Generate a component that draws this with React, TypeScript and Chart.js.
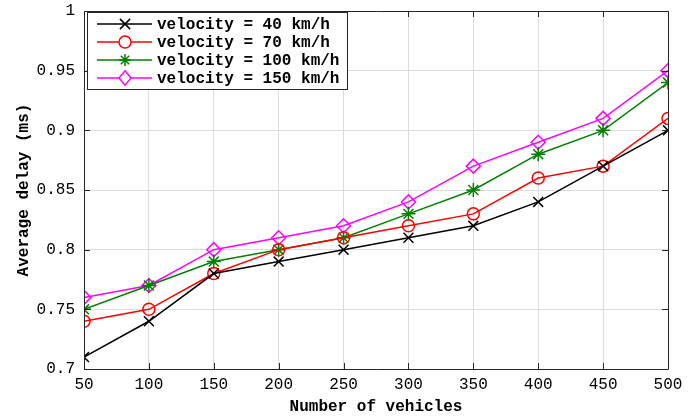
import React, { useEffect, useRef } from "react";
import { Chart, registerables } from "chart.js";

Chart.register(...registerables);

const vehicles = [50, 100, 150, 200, 250, 300, 350, 400, 450, 500];
const v40 = [0.71, 0.74, 0.78, 0.79, 0.8, 0.81, 0.82, 0.84, 0.87, 0.9];
const v70 = [0.74, 0.75, 0.78, 0.8, 0.81, 0.82, 0.83, 0.86, 0.87, 0.91];
const v100 = [0.75, 0.77, 0.79, 0.8, 0.81, 0.83, 0.85, 0.88, 0.9, 0.94];
const v150 = [0.76, 0.77, 0.8, 0.81, 0.82, 0.84, 0.87, 0.89, 0.91, 0.95];
const seriesLabels = ["velocity = 40 km/h", "velocity = 70 km/h", "velocity = 100 km/h", "velocity = 150 km/h"];
const seriesColors = ["#000000", "#ff0000", "#008000", "#ff00ff"];
const seriesMarkers = ["crossRot", "circle", "star", "rectRot"];
const seriesValues = [v40, v70, v100, v150];

const FONT = "'Liberation Mono', 'DejaVu Sans Mono', monospace";

function drawMarker(ctx: CanvasRenderingContext2D, style: string, x: number, y: number, color: string) {
  const r = 6;
  ctx.save();
  ctx.strokeStyle = color;
  ctx.lineWidth = 1.5;
  ctx.beginPath();
  if (style === "crossRot") {
    const d = r * 0.85;
    ctx.moveTo(x - d, y - d); ctx.lineTo(x + d, y + d);
    ctx.moveTo(x - d, y + d); ctx.lineTo(x + d, y - d);
  } else if (style === "circle") {
    ctx.fillStyle = "#ffffff";
    ctx.arc(x, y, r, 0, Math.PI * 2);
    ctx.fill();
  } else if (style === "star") {
    ctx.moveTo(x, y - r); ctx.lineTo(x, y + r);
    ctx.moveTo(x - r, y); ctx.lineTo(x + r, y);
    const d = r * 0.7;
    ctx.moveTo(x - d, y - d); ctx.lineTo(x + d, y + d);
    ctx.moveTo(x - d, y + d); ctx.lineTo(x + d, y - d);
  } else if (style === "rectRot") {
    ctx.fillStyle = "#ffffff";
    ctx.moveTo(x, y - r * 1.2); ctx.lineTo(x + r, y); ctx.lineTo(x, y + r * 1.2); ctx.lineTo(x - r, y); ctx.closePath();
    ctx.fill();
  }
  ctx.stroke();
  ctx.restore();
}

const boxPlugin = {
  id: "boxPlugin",
  afterDatasetsDraw(chart: any) {
    const { ctx, chartArea: a, scales } = chart;
    ctx.save();
    ctx.strokeStyle = "#262626";
    ctx.lineWidth = 1;
    ctx.beginPath();
    ctx.rect(a.left + 0.5, a.top + 0.5, a.right - a.left, a.bottom - a.top);
    ctx.stroke();
    const tl = 6;
    ctx.beginPath();
    scales.x.ticks.forEach((t: any) => {
      const x = Math.round(scales.x.getPixelForValue(t.value)) + 0.5;
      ctx.moveTo(x, a.bottom);
      ctx.lineTo(x, a.bottom - tl);
      ctx.moveTo(x, a.top);
      ctx.lineTo(x, a.top + tl);
    });
    scales.y.ticks.forEach((t: any) => {
      const y = Math.round(scales.y.getPixelForValue(t.value)) + 0.5;
      ctx.moveTo(a.left, y);
      ctx.lineTo(a.left + tl, y);
      ctx.moveTo(a.right, y);
      ctx.lineTo(a.right - tl, y);
    });
    ctx.stroke();

    // legend
    const lx = a.left + 3;
    const ly = a.top + 1;
    const lw = 260;
    const lh = 77;
    ctx.fillStyle = "#ffffff";
    ctx.fillRect(lx, ly, lw, lh);
    ctx.strokeStyle = "#262626";
    ctx.lineWidth = 1;
    ctx.strokeRect(lx + 0.5, ly + 0.5, lw, lh);
    ctx.font = "bold 16px " + FONT;
    ctx.textBaseline = "middle";
    ctx.textAlign = "left";
    seriesLabels.forEach((lab, i) => {
      const cy = ly + 12 + i * 18;
      ctx.strokeStyle = seriesColors[i];
      ctx.lineWidth = 1.5;
      ctx.beginPath();
      ctx.moveTo(lx + 10, cy);
      ctx.lineTo(lx + 65, cy);
      ctx.stroke();
      drawMarker(ctx, seriesMarkers[i], lx + 38, cy, seriesColors[i]);
      ctx.fillStyle = "#000000";
      ctx.fillText(lab, lx + 70, cy + 1);
    });
    ctx.restore();
  },
};

export default function App() {
  const ref = useRef<HTMLCanvasElement>(null);
  useEffect(() => {
    document.body.style.margin = "0";
    const ctx = ref.current!.getContext("2d")!;
    const chart = new Chart(ctx, {
      type: "line",
      data: {
        datasets: seriesValues.map((vals, i) => ({
          label: seriesLabels[i],
          data: vehicles.map((x, j) => ({ x, y: vals[j] })),
          borderColor: seriesColors[i],
          backgroundColor: "rgba(0,0,0,0)",
          borderWidth: 1.5,
          pointStyle: seriesMarkers[i] as any,
          pointRadius: seriesMarkers[i] === "circle" ? 6 : 7,
          pointBorderColor: seriesColors[i],
          pointBackgroundColor: "rgba(0,0,0,0)",
          pointBorderWidth: 1.5,
          tension: 0,
        })),
      },
      options: {
        animation: false,
        responsive: false,
        layout: { padding: { top: 11, right: 24, left: 14, bottom: 0 } },
        plugins: { legend: { display: false }, tooltip: { enabled: false } },
        scales: {
          x: {
            type: "linear",
            min: 50,
            max: 500,
            afterFit: (s: any) => { s.height = 48; s.paddingLeft = 0; s.paddingRight = 0; },
            ticks: {
              stepSize: 50,
              color: "#000",
              padding: 6,
              font: { family: FONT, size: 16 },
            },
            grid: { color: "#dcdcdc", drawTicks: false, lineWidth: 1 },
            border: { display: false },
            title: {
              display: true,
              text: "Number of vehicles",
              color: "#000",
              font: { family: FONT, size: 16, weight: "bold" },
              padding: { top: 0, bottom: 0 },
            },
          },
          y: {
            min: 0.7,
            max: 1,
            afterFit: (s: any) => { s.width = 70; s.paddingTop = 0; s.paddingBottom = 0; },
            ticks: {
              stepSize: 0.05,
              color: "#000",
              padding: 9,
              font: { family: FONT, size: 16 },
              callback: (v: any) => String(Math.round(Number(v) * 100) / 100),
            },
            grid: { color: "#dcdcdc", drawTicks: false, lineWidth: 1 },
            border: { display: false },
            title: {
              display: true,
              text: "Average delay (ms)",
              color: "#000",
              font: { family: FONT, size: 16, weight: "bold" },
              padding: { top: 0, bottom: 4 },
            },
          },
        },
      },
      plugins: [boxPlugin],
    });
    return () => chart.destroy();
  }, []);
  return (
    <div style={{ width: 692, height: 417, background: "#fff" }}>
      <canvas ref={ref} width={692} height={417} />
    </div>
  );
}
